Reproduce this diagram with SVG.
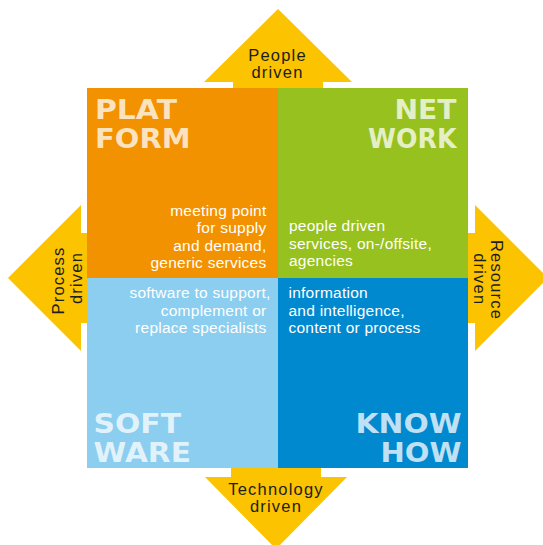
<svg xmlns="http://www.w3.org/2000/svg" width="543" height="545" viewBox="0 0 543 545">
  <style>
    .arrow { fill: #FBC300; }
    .arrow-label { font-family: "Liberation Sans", Arial, sans-serif; font-size: 16.5px; letter-spacing: 1.2px; fill: #1d1d1b; text-anchor: middle; }
    .title { font-family: "DejaVu Sans", "Liberation Sans", sans-serif; font-weight: bold; font-size: 26.5px; fill: #ffffff; fill-opacity: 0.75; }
    .body { font-family: "Liberation Sans", Arial, sans-serif; font-size: 15.5px; letter-spacing: 0.25px; fill: #ffffff; }
    .end { text-anchor: end; }
  </style>

  <rect width="543" height="545" fill="#ffffff"/>

  <!-- driver arrows around the matrix -->
  <g id="people-driven">
    <polygon class="arrow" points="278,9 352,82 323,82 323,89 233,89 233,82 204,82"/>
    <text class="arrow-label" x="277.5" y="60.5">People</text>
    <text class="arrow-label" x="277.5" y="78">driven</text>
  </g>

  <g id="process-driven">
    <polygon class="arrow" points="8,278 81,205 81,233 88,233 88,323 81,323 81,351"/>
    <g transform="translate(64,280.5) rotate(-90)">
      <text class="arrow-label" x="0" y="0">Process</text>
      <text class="arrow-label" x="2.5" y="17.5">driven</text>
    </g>
  </g>

  <g id="resource-driven">
    <polygon class="arrow" points="548,278 475,205 475,233 467,233 467,323 475,323 475,351"/>
    <g transform="translate(491,280) rotate(90)">
      <text class="arrow-label" x="0" y="0">Resource</text>
      <text class="arrow-label" x="-0.8" y="16.7">driven</text>
    </g>
  </g>

  <g id="technology-driven">
    <polygon class="arrow" points="276,549 347,477 321,477 321,467 231,467 231,477 205,477"/>
    <text class="arrow-label" x="276" y="495">Technology</text>
    <text class="arrow-label" x="276" y="512">driven</text>
  </g>

  <!-- quadrants -->
  <g id="platform">
    <rect x="87" y="88" width="191" height="190" fill="#F39200"/>
    <text class="title" x="95" y="119.3" textLength="82" lengthAdjust="spacingAndGlyphs">PLAT</text>
    <text class="title" x="95" y="148.3" textLength="95.5" lengthAdjust="spacingAndGlyphs">FORM</text>
    <text class="body end" x="266.5" y="215.5">meeting point</text>
    <text class="body end" x="266.5" y="233">for supply</text>
    <text class="body end" x="266.5" y="250.5">and demand,</text>
    <text class="body end" x="266.5" y="268">generic services</text>
  </g>

  <g id="network">
    <rect x="278" y="88" width="190" height="190" fill="#97C11E"/>
    <text class="title end" x="456.5" y="119.3" textLength="62" lengthAdjust="spacingAndGlyphs">NET</text>
    <text class="title end" x="456.5" y="148.3" textLength="88.5" lengthAdjust="spacingAndGlyphs">WORK</text>
    <text class="body" x="289" y="231">people driven</text>
    <text class="body" x="289" y="248.5">services, on-/offsite,</text>
    <text class="body" x="289" y="266">agencies</text>
  </g>

  <g id="software">
    <rect x="87" y="278" width="191" height="190" fill="#8BCEEF"/>
    <text class="title" x="93.5" y="433.3" textLength="87.5" lengthAdjust="spacingAndGlyphs">SOFT</text>
    <text class="title" x="93.5" y="462" textLength="97.5" lengthAdjust="spacingAndGlyphs">WARE</text>
    <text class="body end" x="270.5" y="298.3">software to support,</text>
    <text class="body end" x="266.5" y="316">complement or</text>
    <text class="body end" x="266.5" y="333.3">replace specialists</text>
  </g>

  <g id="knowhow">
    <rect x="278" y="278" width="190" height="190" fill="#0089CF"/>
    <text class="title" x="355.5" y="433.3" textLength="106" lengthAdjust="spacingAndGlyphs">KNOW</text>
    <text class="title" x="380.5" y="461.7" textLength="81" lengthAdjust="spacingAndGlyphs">HOW</text>
    <text class="body" x="288.5" y="298.3">information</text>
    <text class="body" x="288.5" y="316">and intelligence,</text>
    <text class="body" x="288.5" y="333">content or process</text>
  </g>
</svg>
